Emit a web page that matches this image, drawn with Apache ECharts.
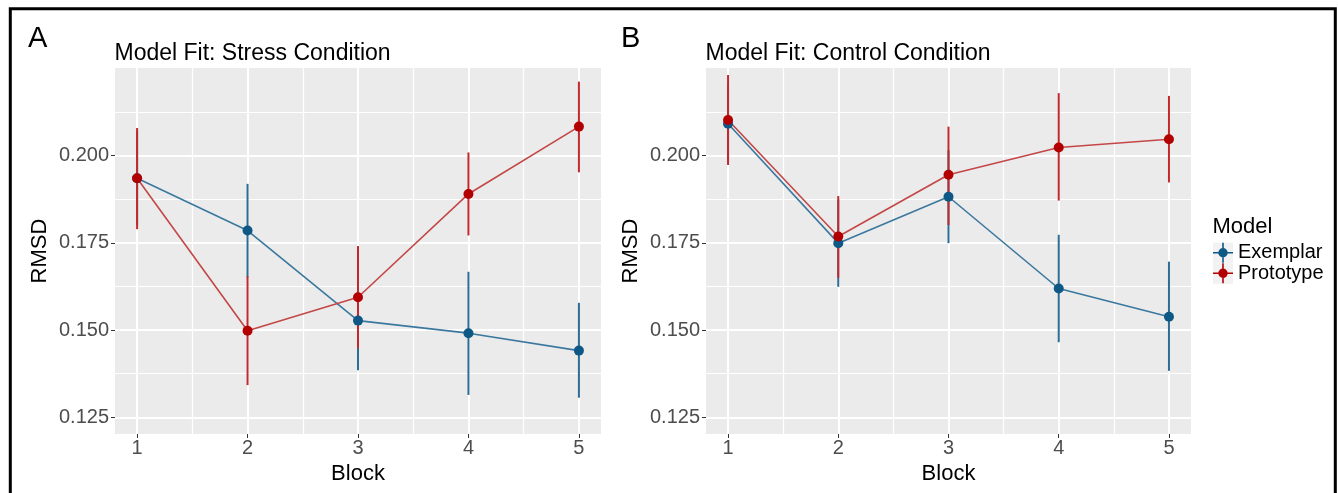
<!DOCTYPE html>
<html>
<head>
<meta charset="utf-8">
<title>Model Fit</title>
<script src="https://cdn.jsdelivr.net/npm/echarts@6/dist/echarts.min.js"></script>
<style>
  html, body { margin: 0; padding: 0; background: #fff; }
  #chart { width: 1338px; height: 493px; }
</style>
</head>
<body>
<div id="chart"></div>
<script>
// blocks and tick values
var blocks = [1, 2, 3, 4, 5];
var yMajor = [0.125, 0.150, 0.175, 0.200];
var yMinor = [0.1375, 0.1625, 0.1875, 0.2125];
var xMinor = [1.5, 2.5, 3.5, 4.5];

// A: stress condition (mean, lower, upper)
var stressExemplar = [0.1935, 0.1785, 0.1527, 0.1491, 0.1441];
var stressExemplarLo = [0.1800, 0.1651, 0.1385, 0.1314, 0.1306];
var stressExemplarHi = [0.2070, 0.1919, 0.1669, 0.1667, 0.1578];
var stressPrototype = [0.1935, 0.1498, 0.1594, 0.1890, 0.2083];
var stressPrototypeLo = [0.1789, 0.1342, 0.1448, 0.1771, 0.1952];
var stressPrototypeHi = [0.2079, 0.1654, 0.1741, 0.2009, 0.2212];

// B: control condition
var controlExemplar = [0.2091, 0.1749, 0.1882, 0.1619, 0.1538];
var controlExemplarLo = [0.1980, 0.1624, 0.1749, 0.1465, 0.1383];
var controlExemplarHi = [0.2200, 0.1874, 0.2015, 0.1773, 0.1696];
var controlPrototype = [0.2102, 0.1768, 0.1945, 0.2023, 0.2047];
var controlPrototypeLo = [0.1973, 0.1650, 0.1801, 0.1871, 0.1923];
var controlPrototypeHi = [0.2231, 0.1884, 0.2083, 0.2179, 0.2171];

var FONT = 'Liberation Sans, Arial, sans-serif';
var BLUE = { point: '#0d5884', line: '#3b789f', bar: '#2d6c94' };
var RED = { point: '#b20000', line: '#c44747', bar: '#c2292d' };
var Y_MIN = 0.1202, Y_MAX = 0.2251;

function pairs(vals) {
	return blocks.map(function(b, i) { return [b, vals[i]]; });
}
function ranges(lo, hi) {
	return blocks.map(function(b, i) { return [b, lo[i], hi[i]]; });
}

// vertical error bar through the axis scale
function errorItem(params, api) {
	var x = api.value(0);
	var lo = api.coord([x, api.value(1)]);
	var hi = api.coord([x, api.value(2)]);
	return {
		type: 'line',
		shape: { x1: lo[0], y1: lo[1], x2: hi[0], y2: hi[1] },
		style: { stroke: api.visual('color'), lineWidth: 2 }
	};
}

function xAxes(grid) {
	return [{
		type: 'value', gridIndex: grid, min: 0.8, max: 5.2,
		name: 'Block', nameLocation: 'middle', nameGap: 26,
		nameTextStyle: { fontFamily: FONT, fontSize: 22, color: '#000' },
		axisLine: { show: false },
		axisTick: { show: true, length: 4, customValues: blocks, lineStyle: { color: '#333', width: 1 } },
		axisLabel: { customValues: blocks, margin: 4, fontFamily: FONT, fontSize: 20, color: '#4d4d4d' },
		splitLine: { show: true, lineStyle: { color: '#fff', width: 2 } }
	}, {
		type: 'value', gridIndex: grid, min: 0.8, max: 5.2,
		axisLine: { show: false },
		axisTick: { show: false, customValues: xMinor },
		axisLabel: { show: false },
		splitLine: { show: true, lineStyle: { color: '#fff', width: 1.2 } }
	}];
}

function yAxes(grid) {
	return [{
		type: 'value', gridIndex: grid, min: Y_MIN, max: Y_MAX,
		name: 'RMSD', nameLocation: 'middle', nameGap: 64,
		nameTextStyle: { fontFamily: FONT, fontSize: 22, color: '#000' },
		axisLine: { show: false },
		axisTick: { show: true, length: 4, customValues: yMajor, lineStyle: { color: '#333', width: 1 } },
		axisLabel: {
			customValues: yMajor, margin: 6, fontFamily: FONT, fontSize: 20, color: '#4d4d4d',
			formatter: function(v) { return v.toFixed(3); }
		},
		splitLine: { show: true, lineStyle: { color: '#fff', width: 2 } }
	}, {
		type: 'value', gridIndex: grid, min: Y_MIN, max: Y_MAX,
		axisLine: { show: false },
		axisTick: { show: false, customValues: yMinor },
		axisLabel: { show: false },
		splitLine: { show: true, lineStyle: { color: '#fff', width: 1.2 } }
	}];
}

function panelSeries(axis, exMean, exLo, exHi, prMean, prLo, prHi) {
	var list = [
		{ name: 'Exemplar', type: 'custom', renderItem: errorItem, data: ranges(exLo, exHi), itemStyle: { color: BLUE.bar }, z: 2, encode: { x: 0, y: [1, 2] } },
		{ name: 'Prototype', type: 'custom', renderItem: errorItem, data: ranges(prLo, prHi), itemStyle: { color: RED.bar }, z: 2, encode: { x: 0, y: [1, 2] } },
		{ name: 'Exemplar', type: 'line', data: pairs(exMean), symbol: 'circle', symbolSize: 10, z: 3,
			itemStyle: { color: BLUE.point }, lineStyle: { color: BLUE.line, width: 1.6 } },
		{ name: 'Prototype', type: 'line', data: pairs(prMean), symbol: 'circle', symbolSize: 10, z: 3,
			itemStyle: { color: RED.point }, lineStyle: { color: RED.line, width: 1.6 } }
	];
	return list.map(function(s) {
		s.xAxisIndex = axis;
		s.yAxisIndex = axis;
		s.animation = false;
		return s;
	});
}

// pointrange legend glyph: vertical bar, horizontal line, dot
var KEY_ICON = 'path://M9.2,0H10.8V20H9.2Z M0,9.3H20V10.7H0Z M10,5.3A4.7,4.7,0,1,1,9.99,5.3Z';

function label(text, left, top, size) {
	return {
		text: text, left: left, top: top, padding: 0,
		textStyle: { fontFamily: FONT, fontSize: size, fontWeight: 'normal', color: '#000', lineHeight: size }
	};
}

var chart = echarts.init(document.getElementById('chart'), null, { renderer: 'canvas' });
var option = {
	animation: false,
	backgroundColor: '#fff',
	title: [
		label('A', 28, 24, 29),
		label('Model Fit: Stress Condition', 114.5, 42, 23),
		label('B', 621, 24, 29),
		label('Model Fit: Control Condition', 705.5, 42, 23),
		label('Model', 1212.5, 215.7, 22)
	],
	grid: [
		{ left: 115, right: 737, top: 68, bottom: 59, show: true, backgroundColor: '#ebebeb', borderWidth: 0 },
		{ left: 706, right: 147, top: 68, bottom: 59, show: true, backgroundColor: '#ebebeb', borderWidth: 0 }
	],
	// axes 0,1 -> panel A; 2,3 -> panel B
	xAxis: xAxes(0).concat(xAxes(1)),
	yAxis: yAxes(0).concat(yAxes(1)),
	legend: {
		orient: 'vertical', left: 1208, top: 237.7, padding: 5,
		itemWidth: 20, itemHeight: 20, itemGap: 0.6, selectedMode: false,
		textStyle: { fontFamily: FONT, fontSize: 20, color: '#000', lineHeight: 20 },
		data: [
			{ name: 'Exemplar', icon: KEY_ICON, itemStyle: { color: BLUE.point } },
			{ name: 'Prototype', icon: KEY_ICON, itemStyle: { color: RED.point } }
		]
	},
	graphic: [
		{ type: 'rect', z: 0, silent: true, shape: { x: 1213, y: 242.7, width: 20, height: 20.6 }, style: { fill: '#f2f2f2' } },
		{ type: 'rect', z: 0, silent: true, shape: { x: 1213, y: 263.3, width: 20, height: 20.6 }, style: { fill: '#f2f2f2' } },
		// outer frame
		{ type: 'rect', z: 10, silent: true, shape: { x: 10.3, y: 8.7, width: 1325, height: 520 }, style: { fill: 'none', stroke: '#000', lineWidth: 3 } }
	],
	series: panelSeries(0, stressExemplar, stressExemplarLo, stressExemplarHi, stressPrototype, stressPrototypeLo, stressPrototypeHi)
		.concat(panelSeries(2, controlExemplar, controlExemplarLo, controlExemplarHi, controlPrototype, controlPrototypeLo, controlPrototypeHi))
};
chart.setOption(option);
</script>
</body>
</html>
